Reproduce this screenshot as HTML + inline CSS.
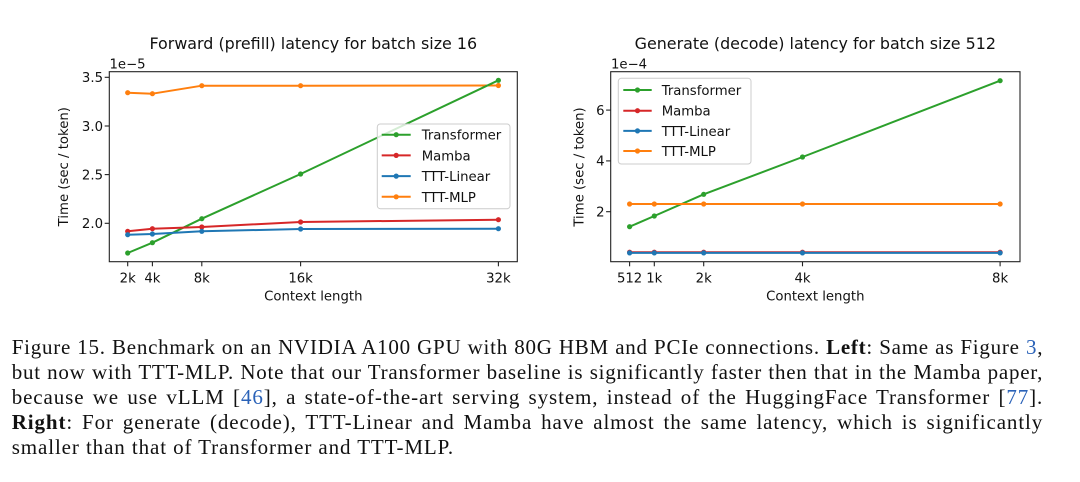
<!DOCTYPE html>
<html>
<head>
<meta charset="utf-8">
<style>
  html, body { margin:0; padding:0; background:#ffffff; }
  body { width:1080px; height:482px; position:relative; overflow:hidden; }
  svg { position:absolute; left:0; top:0; }
  svg text { font-family:"DejaVu Sans", "Liberation Sans", sans-serif; fill:#111; }
  .cap { position:absolute; left:11.7px; width:1031.5px; font-family:"Liberation Serif", serif; font-size:21px; line-height:25px; color:#111; white-space:nowrap; letter-spacing:0.9px; }
  .j { text-align:justify; text-align-last:justify; }
  .lnk { color:#2a62b8; }
  b { font-weight:bold; }
</style>
</head>
<body>
<svg width="1080" height="320" viewBox="0 0 1080 320" xmlns="http://www.w3.org/2000/svg">
  <!-- ================= LEFT CHART ================= -->
  <text x="313.3" y="49" font-size="15.9" text-anchor="middle">Forward (prefill) latency for batch size 16</text>
  <text x="109.5" y="68.3" font-size="13.25">1e−5</text>

  <g fill="none" stroke-width="2" stroke-linejoin="round" stroke-linecap="round">
    <polyline stroke="#ff7f0e" points="127.7,92.7 152.4,93.7 201.8,85.7 300.6,85.7 498.4,85.5"/>
    <polyline stroke="#2ca02c" points="127.7,253 152.4,242.7 201.8,218.7 300.6,174 498.4,80.3"/>
    <polyline stroke="#d62728" points="127.7,231.3 152.4,228.7 201.8,227 300.6,222 498.4,219.7"/>
    <polyline stroke="#1f77b4" points="127.7,234.7 152.4,234 201.8,231.3 300.6,229 498.4,228.7"/>
  </g>
  <g fill="#ff7f0e"><circle cx="127.7" cy="92.7" r="2.6"/><circle cx="152.4" cy="93.7" r="2.6"/><circle cx="201.8" cy="85.7" r="2.6"/><circle cx="300.6" cy="85.7" r="2.6"/><circle cx="498.4" cy="85.5" r="2.6"/></g>
  <g fill="#2ca02c"><circle cx="127.7" cy="253" r="2.6"/><circle cx="152.4" cy="242.7" r="2.6"/><circle cx="201.8" cy="218.7" r="2.6"/><circle cx="300.6" cy="174" r="2.6"/><circle cx="498.4" cy="80.3" r="2.6"/></g>
  <g fill="#d62728"><circle cx="127.7" cy="231.3" r="2.6"/><circle cx="152.4" cy="228.7" r="2.6"/><circle cx="201.8" cy="227" r="2.6"/><circle cx="300.6" cy="222" r="2.6"/><circle cx="498.4" cy="219.7" r="2.6"/></g>
  <g fill="#1f77b4"><circle cx="127.7" cy="234.7" r="2.6"/><circle cx="152.4" cy="234" r="2.6"/><circle cx="201.8" cy="231.3" r="2.6"/><circle cx="300.6" cy="229" r="2.6"/><circle cx="498.4" cy="228.7" r="2.6"/></g>

  <rect x="109.3" y="71.7" width="408" height="190" fill="none" stroke="#222" stroke-width="1.1"/>
  <g stroke="#222" stroke-width="1.1">
    <line x1="104.7" y1="77.3" x2="109.3" y2="77.3"/>
    <line x1="104.7" y1="126" x2="109.3" y2="126"/>
    <line x1="104.7" y1="174.6" x2="109.3" y2="174.6"/>
    <line x1="104.7" y1="223.3" x2="109.3" y2="223.3"/>
    <line x1="127.7" y1="261.7" x2="127.7" y2="266.3"/>
    <line x1="152.4" y1="261.7" x2="152.4" y2="266.3"/>
    <line x1="201.8" y1="261.7" x2="201.8" y2="266.3"/>
    <line x1="300.6" y1="261.7" x2="300.6" y2="266.3"/>
    <line x1="498.4" y1="261.7" x2="498.4" y2="266.3"/>
  </g>
  <g font-size="13.25" text-anchor="end">
    <text x="103" y="82.1">3.5</text>
    <text x="103" y="130.8">3.0</text>
    <text x="103" y="179.4">2.5</text>
    <text x="103" y="228.1">2.0</text>
  </g>
  <g font-size="13.25" text-anchor="middle">
    <text x="127.7" y="282.7">2k</text>
    <text x="152.4" y="282.7">4k</text>
    <text x="201.8" y="282.7">8k</text>
    <text x="300.6" y="282.7">16k</text>
    <text x="498.4" y="282.7">32k</text>
    <text x="313.3" y="300.7">Context length</text>
  </g>
  <text font-size="13.25" text-anchor="middle" transform="translate(68,166.7) rotate(-90)">Time (sec / token)</text>

  <rect x="377.3" y="124" width="132.7" height="84.7" rx="3" fill="#ffffff" fill-opacity="0.8" stroke="#cccccc" stroke-width="1"/>
  <g stroke-width="2">
    <line x1="381.7" y1="134.7" x2="410.7" y2="134.7" stroke="#2ca02c"/>
    <line x1="381.7" y1="155.4" x2="410.7" y2="155.4" stroke="#d62728"/>
    <line x1="381.7" y1="176.1" x2="410.7" y2="176.1" stroke="#1f77b4"/>
    <line x1="381.7" y1="196.8" x2="410.7" y2="196.8" stroke="#ff7f0e"/>
  </g>
  <circle cx="396.2" cy="134.7" r="2.6" fill="#2ca02c"/>
  <circle cx="396.2" cy="155.4" r="2.6" fill="#d62728"/>
  <circle cx="396.2" cy="176.1" r="2.6" fill="#1f77b4"/>
  <circle cx="396.2" cy="196.8" r="2.6" fill="#ff7f0e"/>
  <g font-size="13.25">
    <text x="421.7" y="139.7">Transformer</text>
    <text x="421.7" y="160.4">Mamba</text>
    <text x="421.7" y="181.1">TTT-Linear</text>
    <text x="421.7" y="201.8">TTT-MLP</text>
  </g>

  <!-- ================= RIGHT CHART ================= -->
  <text x="815.3" y="49" font-size="15.9" text-anchor="middle">Generate (decode) latency for batch size 512</text>
  <text x="611" y="68.3" font-size="13.25">1e−4</text>

  <g fill="none" stroke-width="2" stroke-linejoin="round" stroke-linecap="round">
    <polyline stroke="#2ca02c" points="629.6,226.7 654.3,216 703.7,194.3 802.5,157 1000.1,80.7"/>
    <polyline stroke="#d62728" points="629.6,252.2 654.3,252.2 703.7,252.2 802.5,252.2 1000.1,252.2"/>
    <polyline stroke="#1f77b4" points="629.6,252.9 654.3,252.9 703.7,252.9 802.5,252.9 1000.1,252.9"/>
    <polyline stroke="#ff7f0e" points="629.6,204 654.3,204 703.7,204 802.5,204 1000.1,204"/>
  </g>
  <g fill="#2ca02c"><circle cx="629.6" cy="226.7" r="2.6"/><circle cx="654.3" cy="216" r="2.6"/><circle cx="703.7" cy="194.3" r="2.6"/><circle cx="802.5" cy="157" r="2.6"/><circle cx="1000.1" cy="80.7" r="2.6"/></g>
  <g fill="#d62728"><circle cx="629.6" cy="252.2" r="2.6"/><circle cx="654.3" cy="252.2" r="2.6"/><circle cx="703.7" cy="252.2" r="2.6"/><circle cx="802.5" cy="252.2" r="2.6"/><circle cx="1000.1" cy="252.2" r="2.6"/></g>
  <g fill="#1f77b4"><circle cx="629.6" cy="252.9" r="2.6"/><circle cx="654.3" cy="252.9" r="2.6"/><circle cx="703.7" cy="252.9" r="2.6"/><circle cx="802.5" cy="252.9" r="2.6"/><circle cx="1000.1" cy="252.9" r="2.6"/></g>
  <g fill="#ff7f0e"><circle cx="629.6" cy="204" r="2.6"/><circle cx="654.3" cy="204" r="2.6"/><circle cx="703.7" cy="204" r="2.6"/><circle cx="802.5" cy="204" r="2.6"/><circle cx="1000.1" cy="204" r="2.6"/></g>

  <rect x="610.7" y="71.7" width="409.3" height="190" fill="none" stroke="#222" stroke-width="1.1"/>
  <g stroke="#222" stroke-width="1.1">
    <line x1="606.1" y1="110.1" x2="610.7" y2="110.1"/>
    <line x1="606.1" y1="160.9" x2="610.7" y2="160.9"/>
    <line x1="606.1" y1="211.7" x2="610.7" y2="211.7"/>
    <line x1="629.6" y1="261.7" x2="629.6" y2="266.3"/>
    <line x1="654.3" y1="261.7" x2="654.3" y2="266.3"/>
    <line x1="703.7" y1="261.7" x2="703.7" y2="266.3"/>
    <line x1="802.5" y1="261.7" x2="802.5" y2="266.3"/>
    <line x1="1000.1" y1="261.7" x2="1000.1" y2="266.3"/>
  </g>
  <g font-size="13.25" text-anchor="end">
    <text x="604.5" y="114.9">6</text>
    <text x="604.5" y="165.7">4</text>
    <text x="604.5" y="216.5">2</text>
  </g>
  <g font-size="13.25" text-anchor="middle">
    <text x="629.6" y="282.7">512</text>
    <text x="654.3" y="282.7">1k</text>
    <text x="703.7" y="282.7">2k</text>
    <text x="802.5" y="282.7">4k</text>
    <text x="1000.1" y="282.7">8k</text>
    <text x="815.3" y="300.7">Context length</text>
  </g>
  <text font-size="13.25" text-anchor="middle" transform="translate(583.5,167) rotate(-90)">Time (sec / token)</text>

  <rect x="618.3" y="78.3" width="132.7" height="85.7" rx="3" fill="#ffffff" fill-opacity="0.8" stroke="#cccccc" stroke-width="1"/>
  <g stroke-width="2">
    <line x1="623.3" y1="90" x2="651.7" y2="90" stroke="#2ca02c"/>
    <line x1="623.3" y1="110.7" x2="651.7" y2="110.7" stroke="#d62728"/>
    <line x1="623.3" y1="130.9" x2="651.7" y2="130.9" stroke="#1f77b4"/>
    <line x1="623.3" y1="151" x2="651.7" y2="151" stroke="#ff7f0e"/>
  </g>
  <circle cx="637.5" cy="90" r="2.6" fill="#2ca02c"/>
  <circle cx="637.5" cy="110.7" r="2.6" fill="#d62728"/>
  <circle cx="637.5" cy="130.9" r="2.6" fill="#1f77b4"/>
  <circle cx="637.5" cy="151" r="2.6" fill="#ff7f0e"/>
  <g font-size="13.25">
    <text x="661.7" y="95">Transformer</text>
    <text x="661.7" y="115.7">Mamba</text>
    <text x="661.7" y="135.9">TTT-Linear</text>
    <text x="661.7" y="156">TTT-MLP</text>
  </g>
</svg>

<div class="cap j" style="top:335.4px; letter-spacing:0.75px;">Figure 15. Benchmark on an NVIDIA A100 GPU with 80G HBM and PCIe connections. <b>Left</b>: Same as Figure <span class="lnk">3</span>,</div>
<div class="cap j" style="top:360.4px; letter-spacing:0.75px;">but now with TTT-MLP. Note that our Transformer baseline is significantly faster then that in the Mamba paper,</div>
<div class="cap j" style="top:385.4px;">because we use vLLM [<span class="lnk">46</span>], a state-of-the-art serving system, instead of the HuggingFace Transformer [<span class="lnk">77</span>].</div>
<div class="cap j" style="top:410.4px;"><b>Right</b>: For generate (decode), TTT-Linear and Mamba have almost the same latency, which is significantly</div>
<div class="cap" style="top:435.4px;">smaller than that of Transformer and TTT-MLP.</div>
</body>
</html>
